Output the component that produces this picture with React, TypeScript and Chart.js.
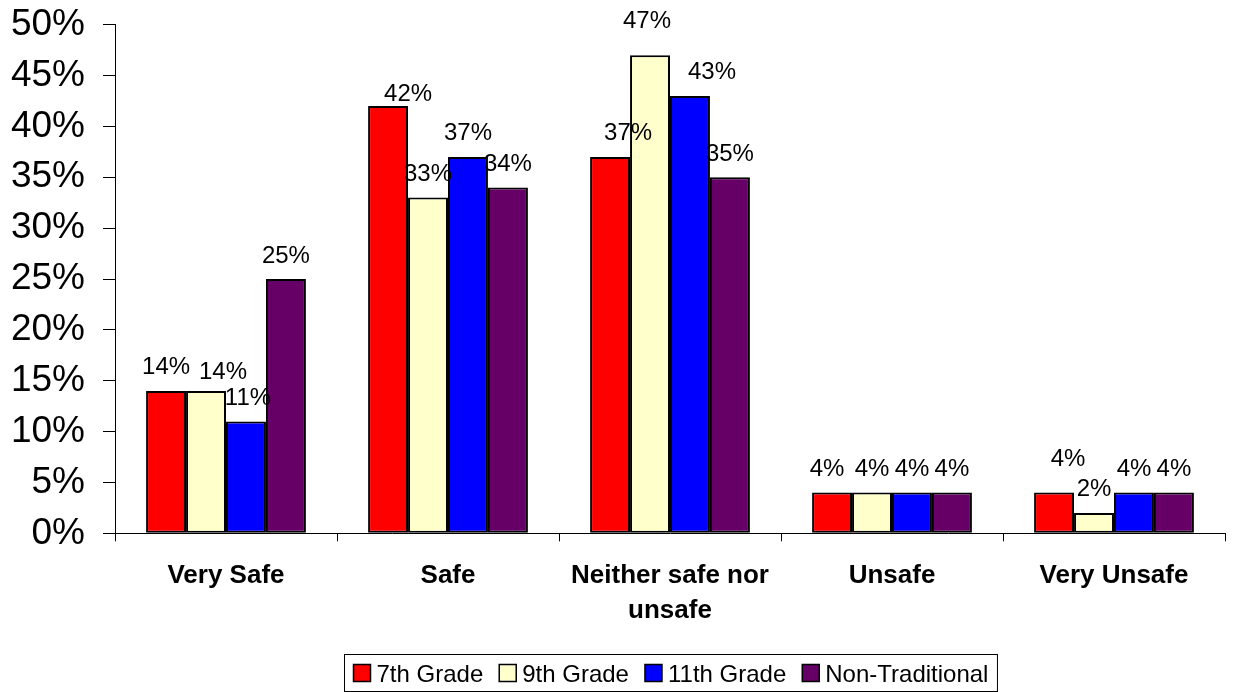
import React, { useEffect, useRef } from "react";
import { Chart, registerables } from "chart.js";

Chart.register(...registerables);

// Survey categories (multi-line label for the long one)
const categories: (string | string[])[] = [
  "Very Safe",
  "Safe",
  ["Neither safe nor", "unsafe"],
  "Unsafe",
  "Very Unsafe",
];

const seriesNames = ["7th Grade", "9th Grade", "11th Grade", "Non-Traditional"];

// Percentages per category
const grade7 = [14, 42, 37, 4, 4];
const grade9 = [14, 33, 47, 4, 2];
const grade11 = [11, 37, 43, 4, 4];
const nonTraditional = [25, 34, 35, 4, 4];

const yMin = 0;
const yMax = 50;
const yStep = 5;

const seriesColors = ["#FF0000", "#FFFFCC", "#0000FF", "#660066"];

// Small nudges [dx, dy] for value labels so overlapping ones stay readable
const labelNudge7 = [[0, 0], [20, 11], [18, 0], [-5, 0], [14, -10]];
const labelNudge9 = [[17, 5], [0, 0], [-3, -11], [0, 0], [0, 0]];
const labelNudge11 = [[2, 0], [0, 0], [22, 0], [0, 0], [0, 0]];
const labelNudgeNT = [[0, 0], [0, 0], [0, 0], [0, 0], [0, 0]];

const FONT = "'Liberation Sans', Arial, Helvetica, sans-serif";

const valueLabels = {
  id: "valueLabels",
  afterDatasetsDraw(chart: any) {
    const ctx = chart.ctx;
    const nudges = [labelNudge7, labelNudge9, labelNudge11, labelNudgeNT];
    ctx.save();
    ctx.font = `24px ${FONT}`;
    ctx.fillStyle = "#000";
    ctx.textAlign = "center";
    ctx.textBaseline = "alphabetic";
    chart.data.datasets.forEach((ds: any, di: number) => {
      const meta = chart.getDatasetMeta(di);
      meta.data.forEach((bar: any, i: number) => {
        const [dx, dy] = nudges[di][i];
        ctx.fillText(`${ds.data[i]}%`, bar.x + dx, bar.y - 16.5 + dy);
      });
    });
    ctx.restore();
  },
};

const boxedLegend = {
  id: "boxedLegend",
  afterDraw(chart: any) {
    const ctx = chart.ctx;
    const area = chart.chartArea;
    ctx.save();
    ctx.font = `24px ${FONT}`;
    const sq = 17;
    const gapAfterSquare = 6;
    const gapBetween = 16;
    const padX = 9;
    const widths = seriesNames.map((n) => ctx.measureText(n).width);
    const inner =
      widths.reduce((a, b) => a + b, 0) +
      seriesNames.length * (sq + gapAfterSquare) +
      (seriesNames.length - 1) * gapBetween;
    const boxW = inner + padX * 2;
    const boxH = 37;
    const boxX = Math.round((area.left + area.right) / 2 - boxW / 2) + 0.5;
    const boxY = 654.5;
    ctx.strokeStyle = "#000";
    ctx.lineWidth = 1;
    ctx.strokeRect(boxX, boxY, boxW, boxH);
    const cy = boxY + boxH / 2;
    let x = boxX + padX;
    seriesNames.forEach((name, i) => {
      ctx.fillStyle = seriesColors[i];
      ctx.fillRect(x, cy - sq / 2, sq, sq);
      ctx.lineWidth = 1.5;
      ctx.strokeStyle = "#000";
      ctx.strokeRect(x, cy - sq / 2, sq, sq);
      x += sq + gapAfterSquare;
      ctx.fillStyle = "#000";
      ctx.textAlign = "left";
      ctx.textBaseline = "alphabetic";
      ctx.fillText(name, x, cy + 8.5);
      x += widths[i] + gapBetween;
    });
    ctx.restore();
  },
};

export default function App() {
  const canvasRef = useRef<HTMLCanvasElement | null>(null);

  useEffect(() => {
    document.body.style.margin = "0";
    const canvas = canvasRef.current;
    if (!canvas) return;
    const series = [grade7, grade9, grade11, nonTraditional];
    const chart = new Chart(canvas, {
      type: "bar",
      data: {
        labels: categories as any,
        datasets: series.map((values, i) => ({
          label: seriesNames[i],
          data: values,
          backgroundColor: seriesColors[i],
          borderColor: "#000",
          borderWidth: 2,
          borderSkipped: false,
          categoryPercentage: 0.72,
          barPercentage: 1,
        })),
      },
      options: {
        responsive: false,
        animation: false,
        devicePixelRatio: 1,
        layout: { padding: { top: 24.7, right: 9, left: 0, bottom: 0 } },
        plugins: {
          legend: { display: false },
          tooltip: { enabled: false },
          title: { display: false },
        },
        scales: {
          x: {
            grid: {
              display: true,
              drawOnChartArea: false,
              drawTicks: true,
              tickLength: 8,
              color: "#000",
              offset: true,
            },
            border: { display: true, color: "#000", width: 1 },
            ticks: {
              color: "#000",
              padding: 17,
              maxRotation: 0,
              autoSkip: false,
              font: { family: FONT, size: 26, weight: "bold", lineHeight: 1.35 },
            },
            afterFit(scale: any) {
              scale.height = 692 - 533.3;
              scale.paddingLeft = 0;
              scale.paddingRight = 0;
            },
          },
          y: {
            min: yMin,
            max: yMax,
            grid: {
              display: true,
              drawOnChartArea: false,
              drawTicks: true,
              tickLength: 12,
              color: "#000",
            },
            border: { display: true, color: "#000", width: 1 },
            ticks: {
              stepSize: yStep,
              color: "#000",
              padding: 18,
              font: { family: FONT, size: 37 },
              callback: (v: any) => `${v}%`,
            },
            afterFit(scale: any) {
              scale.width = 115;
              scale.paddingTop = 0;
              scale.paddingBottom = 0;
            },
          },
        },
      },
      plugins: [valueLabels, boxedLegend],
    });
    return () => chart.destroy();
  }, []);

  return (
    <div style={{ position: "absolute", left: 0, top: 0, width: 1234, height: 692, background: "#fff" }}>
      <canvas ref={canvasRef} width={1234} height={692} />
    </div>
  );
}
